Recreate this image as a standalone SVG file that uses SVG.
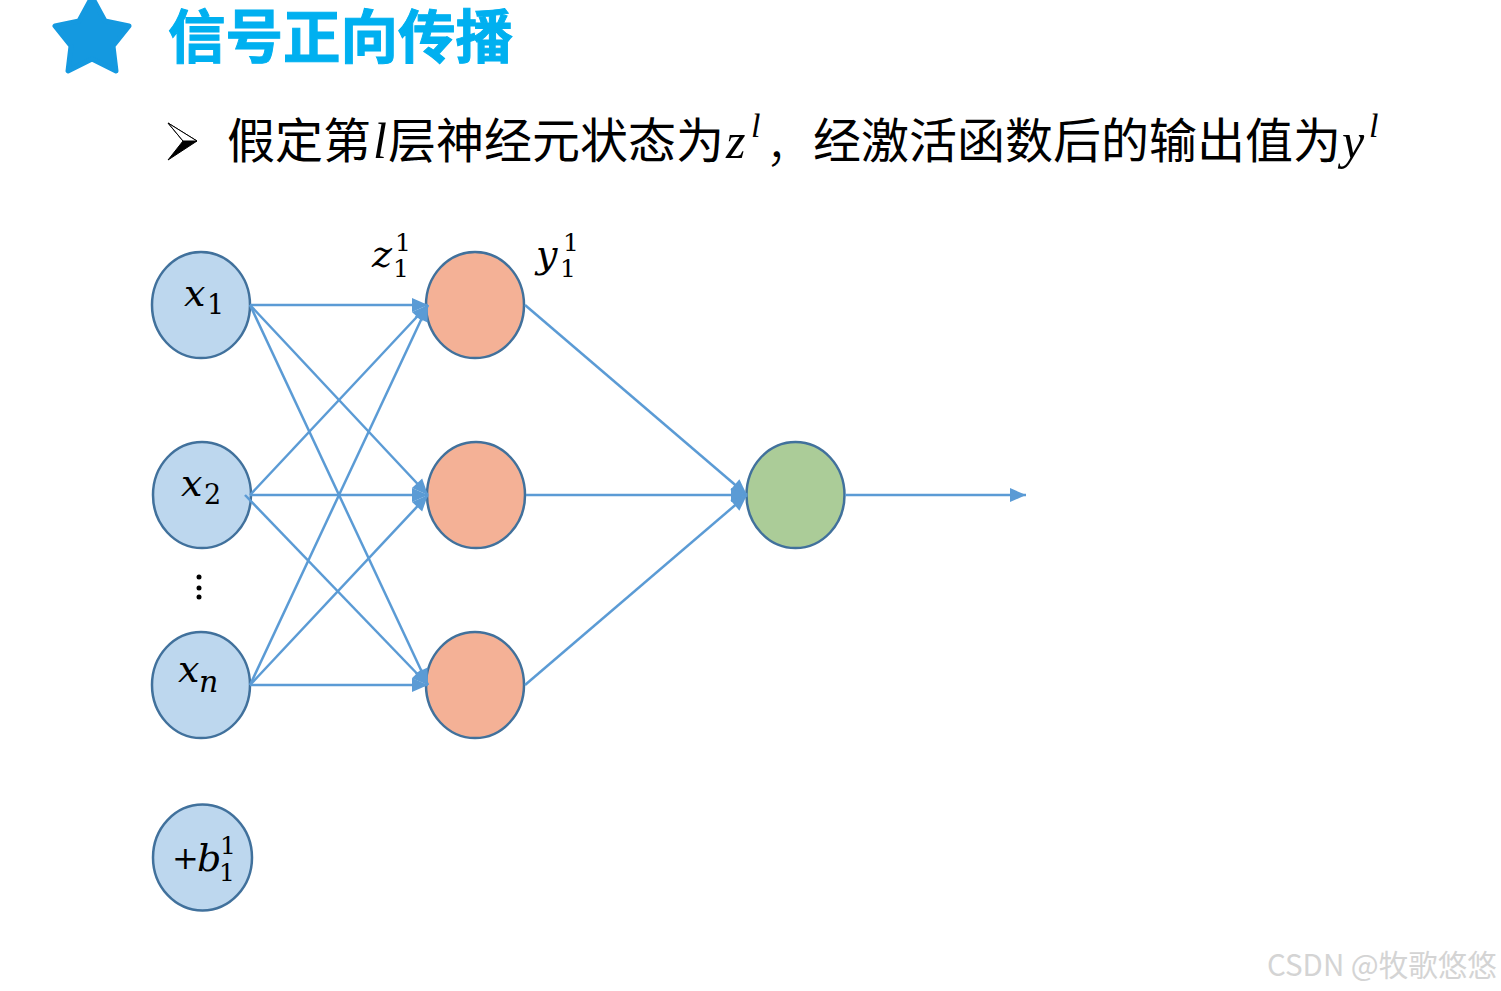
<svg xmlns="http://www.w3.org/2000/svg" width="1501" height="991" viewBox="0 0 1501 991">
<style>
.cjk{font-family:"Noto Sans CJK SC","Noto Sans",sans-serif}
.sub{font-size:48px;fill:#000}
.m{font-family:"DejaVu Serif","Liberation Serif",serif;font-style:italic;fill:#000}
.d{font-family:"DejaVu Serif","Liberation Serif",serif;fill:#000}
.ms{font-family:"Liberation Serif",serif;font-style:italic;fill:#000}
.c{stroke:#5B9BD5;stroke-width:2.5;fill:none;marker-end:url(#a)}
.n{stroke:#41719C;stroke-width:2.5}
.b{fill:#BDD7EE}.o{fill:#F4B196}.g{fill:#ABCC98}
</style>
<defs>
<marker id="a" markerUnits="userSpaceOnUse" markerWidth="18" markerHeight="16" refX="17" refY="8" orient="auto"><path d="M1 1L17 8L1 15Z" fill="#5B9BD5"/></marker>
</defs>
<rect width="1501" height="991" fill="#fff"/>
<g id="star"><path d="M92 -3L105 21L129 26L113 46L116 71L92 59L68 71L71 46L55 26L79 21Z" fill="#1499E0" stroke="#1499E0" stroke-width="5" stroke-linejoin="round"/></g>
<g id="title"><text x="168" y="58" class="cjk" font-size="57.5" font-weight="700" fill="#00B0F0" stroke="#00B0F0" stroke-width="1">信号正向传播</text></g>
<g id="bullet">
<path d="M168 123L183 141L168 160L197 141Z" fill="#000" stroke="#000" stroke-width="1" stroke-linejoin="round"/>
<path d="M168 123L197 141L183 141Z" fill="#fff" stroke="#000" stroke-width="1"/>
</g>
<g id="subtitle">
<text x="227" y="158" class="cjk sub">假定第</text>
<text x="373" y="158" class="ms" font-size="50">l</text>
<text x="388" y="158" class="cjk sub">层神经元状态为</text>
<text x="726" y="158" class="ms" font-size="50">z</text>
<text x="751" y="137" class="ms" font-size="34">l</text>
<text x="766" y="162" class="cjk sub" font-weight="300">，</text>
<text x="813" y="158" class="cjk sub">经激活函数后的输出值为</text>
<text x="1342" y="158" class="ms" font-size="50">y</text>
<text x="1369" y="137" class="ms" font-size="34">l</text>
</g>
<g id="x1"><ellipse class="n b" cx="201" cy="305" rx="49" ry="53"/><text x="184" y="306" class="m" font-size="38">x</text><text x="207" y="314" class="d" font-size="27">1</text></g>
<g id="x2"><ellipse class="n b" cx="202" cy="495" rx="49" ry="53"/><text x="181" y="496" class="m" font-size="38">x</text><text x="204" y="504" class="d" font-size="27">2</text></g>
<g id="xn"><ellipse class="n b" cx="201" cy="685" rx="49" ry="53"/><text x="178" y="682" class="m" font-size="38">x</text><text x="199" y="692" class="m" font-size="30">n</text></g>
<g id="b1"><ellipse class="n b" cx="202.500" cy="857.500" rx="49.500" ry="53"/><text x="172" y="869" class="d" font-size="32">+</text><text x="197" y="871" class="m" font-size="38">b</text><text x="220" y="854" class="d" font-size="25">1</text><text x="219" y="881" class="d" font-size="25">1</text></g>
<g id="dots"><circle cx="199" cy="577" r="2.500"/><circle cx="199" cy="588" r="2.500"/><circle cx="199" cy="597" r="2.500"/></g>
<g id="h1"><ellipse class="n o" cx="475" cy="305" rx="49" ry="53"/></g>
<g id="h2"><ellipse class="n o" cx="476" cy="495" rx="49" ry="53"/></g>
<g id="h3"><ellipse class="n o" cx="475" cy="685" rx="49" ry="53"/></g>
<g id="out"><ellipse class="n g" cx="795.500" cy="495" rx="49" ry="53"/></g>
<g id="connectors">
<path class="c" d="M250 305H428"/>
<path class="c" d="M250 305L428 495"/>
<path class="c" d="M250 305L428 685"/>
<path class="c" d="M250 495L428 305"/>
<path class="c" d="M250 495H428"/>
<path class="c" d="M245 495L428 685"/>
<path class="c" d="M250 685L428 305"/>
<path class="c" d="M250 685L428 495"/>
<path class="c" d="M250 685H428"/>
<path class="c" d="M525 305L747 495"/>
<path class="c" d="M526 495H747"/>
<path class="c" d="M525 685L747 495"/>
<path class="c" d="M845 495H1026"/>
</g>
<g id="z11"><text x="372" y="267" class="m" font-size="38">z</text><text x="395" y="251" class="d" font-size="25">1</text><text x="393" y="277" class="d" font-size="25">1</text></g>
<g id="y11"><text x="536" y="267" class="m" font-size="38">y</text><text x="563" y="251" class="d" font-size="25">1</text><text x="560" y="277" class="d" font-size="25">1</text></g>
<g id="wm"><text x="1267" y="976" class="cjk" font-size="29.500" fill="#D4D4D4">CSDN @牧歌悠悠</text></g>
</svg>
